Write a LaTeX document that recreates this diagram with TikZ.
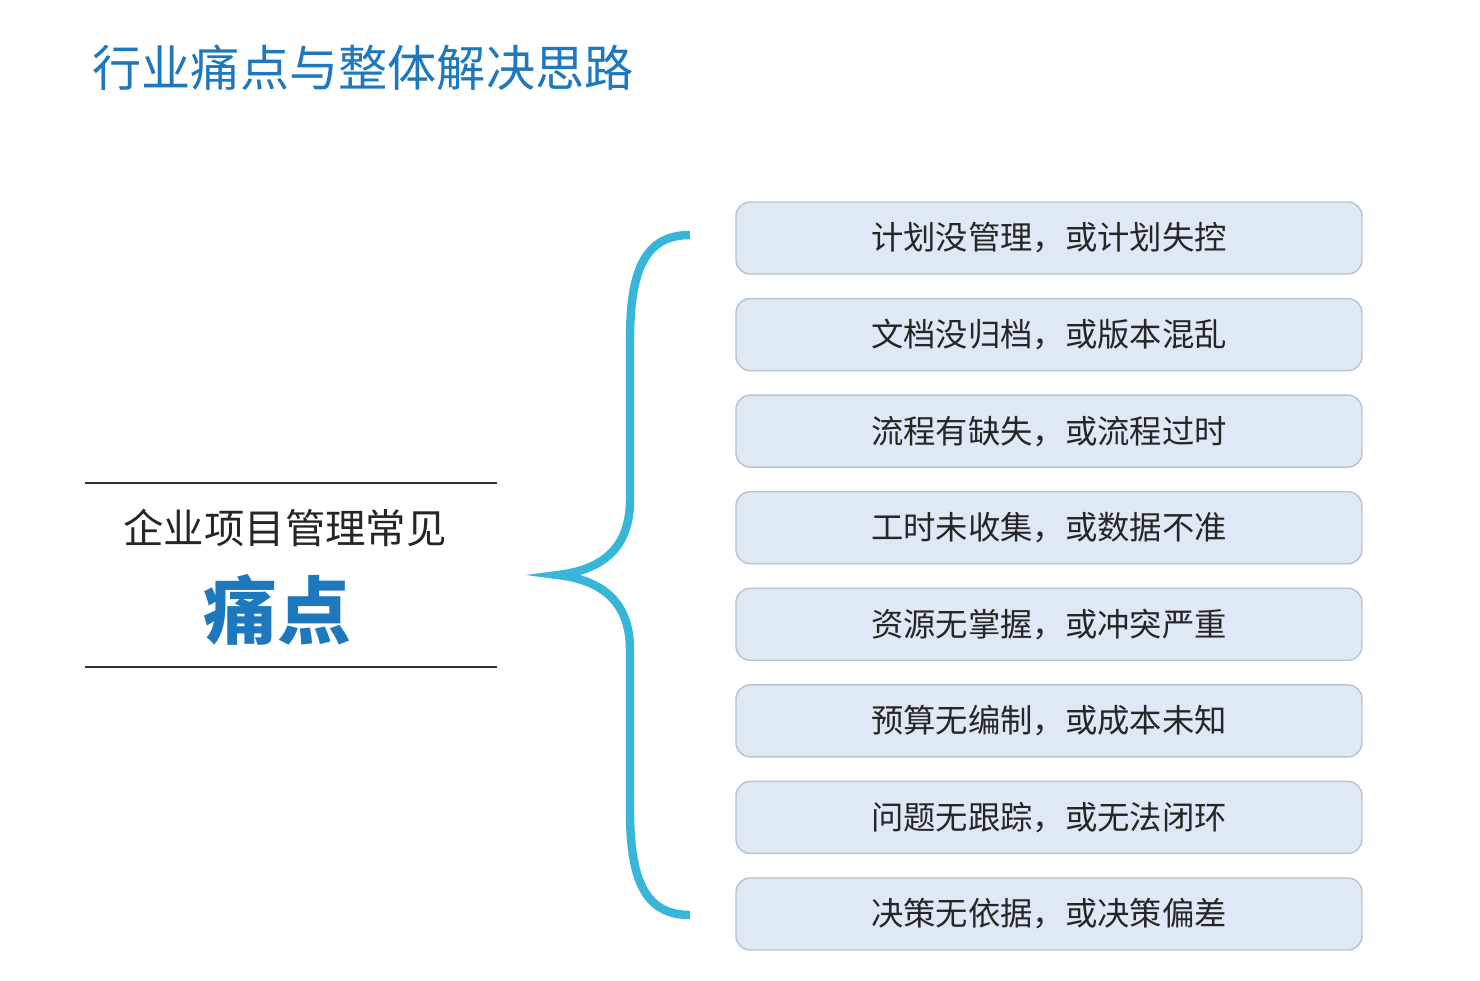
\documentclass[tikz,border=0pt]{standalone}
\usepackage{fontspec}
\newfontfamily\cjk{Noto Sans CJK SC}
\usetikzlibrary{positioning}
\definecolor{titleblue}{RGB}{30,120,190}
\definecolor{bracecyan}{RGB}{56,182,218}
\definecolor{boxfill}{RGB}{222,233,245}
\definecolor{boxline}{RGB}{185,195,205}

\tikzset{
  painbox/.style={draw=boxline, fill=boxfill, rounded corners=4pt, minimum width=6.26cm,
    minimum height=0.72cm, font=\cjk\fontsize{9.2pt}{11pt}\selectfont, text=black!85},
}

\begin{document}
\begin{tikzpicture}[x=1cm,y=1cm]
  \useasboundingbox (0,0) rectangle (14.8,9.8);
  \fill[white] (0,0) rectangle (14.8,9.8);
  \node[anchor=west, text=titleblue, font=\cjk\fontsize{14pt}{16pt}\selectfont] (title) at (0.8,9.12) {行业痛点与整体解决思路};
  % left block
  \draw[black!80, thin] (0.85,4.97) -- (4.97,4.97);
  \draw[black!80, thin] (0.85,3.13) -- (4.97,3.13);
  \node[font=\cjk\fontsize{11.5pt}{13pt}\selectfont, text=black!85] (common) at (2.85,4.52) {企业项目管理常见};
  \node[font=\cjk\bfseries\fontsize{21pt}{23pt}\selectfont, text=titleblue] (pain) at (2.77,3.7) {痛点};
  % brace
  \draw[bracecyan, line width=2.4pt]
    (6.9,7.45) .. controls (6.45,7.45) and (6.3,7.1) .. (6.3,6.4)
    -- (6.3,4.8) .. controls (6.3,4.3) and (6.0,4.1) .. (5.58,4.05)
    .. controls (6.0,4.0) and (6.3,3.8) .. (6.3,3.3)
    -- (6.3,1.7) .. controls (6.3,1.0) and (6.45,0.65) .. (6.9,0.65);
  % boxes
  \foreach \txt [count=\i] in {计划没管理，或计划失控, 文档没归档，或版本混乱, 流程有缺失，或流程过时,
      工时未收集，或数据不准, 资源无掌握，或冲突严重, 预算无编制，或成本未知,
      问题无跟踪，或无法闭环, 决策无依据，或决策偏差}{
    \node[painbox] (pt\i) at (10.49,{9.8-2.38-(\i-1)*0.9657}) {\txt};
  }
\end{tikzpicture}
\end{document}
